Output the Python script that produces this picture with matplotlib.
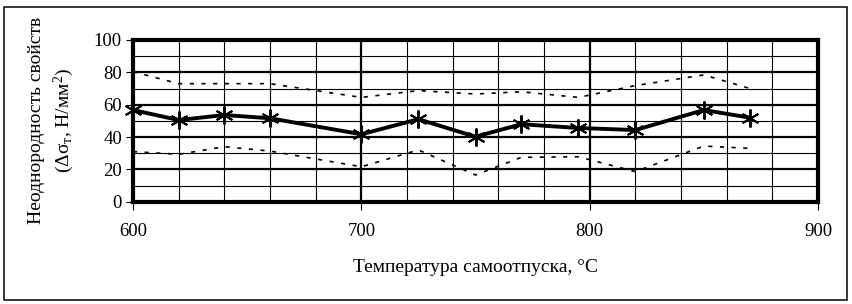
""" неоднородность свойств в зависимости от температуры самоотпуска """

from matplotlib import pyplot as plt
from matplotlib.patches import Rectangle
from matplotlib.ticker import MultipleLocator

temperature = [600, 620, 640, 660, 700, 725, 750, 770, 795, 820, 850, 870]
mean_spread = [56.7, 50.5, 53.6, 51.6, 41.7, 51.0, 40.2, 47.9, 45.6, 44.3, 56.7, 52.0]
upper_spread = [80.4, 73.0, 73.0, 73.0, 64.5, 68.7, 66.6, 68.0, 64.5, 71.8, 78.4, 70.1]
lower_spread = [31.0, 29.3, 34.0, 31.3, 21.6, 32.0, 16.5, 27.4, 27.8, 18.6, 34.4, 33.0]

plt.rcParams["font.family"] = ["Liberation Serif", "DejaVu Serif"]
plt.rcParams["mathtext.fontset"] = "custom"
plt.rcParams["mathtext.rm"] = "Liberation Serif"
plt.rcParams["mathtext.it"] = "Liberation Serif"

fig = plt.figure(figsize=(8.52, 3.04), dpi=100)
ax = fig.add_axes((133/852, 1 - 201.7/304, 685/852, 161.7/304))

# внешняя рамка рисунка
fig.patches.append(Rectangle((4/852, 4/304), 843/852, 293/304, transform=fig.transFigure,
                             fill=False, edgecolor="k", linewidth=1.1))

ax.plot(temperature, upper_spread, color="k", linewidth=1.2, linestyle=(0, (2.5, 4.5)))
ax.plot(temperature, lower_spread, color="k", linewidth=1.2, linestyle=(0, (2.5, 4.5)))
ax.plot(temperature, mean_spread, color="k", linewidth=2.8, marker=(6, 2, 0),
        markersize=13, markeredgewidth=1.4, clip_on=False, zorder=5)

ax.set_xlim(600, 900)
ax.set_ylim(0, 100)
ax.xaxis.set_major_locator(MultipleLocator(100))
ax.xaxis.set_minor_locator(MultipleLocator(20))
ax.yaxis.set_major_locator(MultipleLocator(20))
ax.yaxis.set_minor_locator(MultipleLocator(10))
ax.grid(which="major", color="k", linewidth=1.6)
ax.grid(which="minor", color="k", linewidth=0.8)
ax.set_axisbelow(True)
for spine in ax.spines.values():
	spine.set_linewidth(3.0)
ax.tick_params(which="major", direction="out", width=0.8, labelsize=13.5)
ax.tick_params(axis="x", which="major", length=6, pad=9)
ax.tick_params(axis="y", which="major", length=5, pad=3)
ax.tick_params(which="minor", length=0)

ax.set_xlabel("Температура самоотпуска, °C", fontsize=14, va="center")
ax.xaxis.set_label_coords(0.5, -0.404)
ax.set_ylabel("Неоднородность свойств\n(Δσ$_\\mathrm{т}$, Н/мм$^\\mathrm{2}$)", fontsize=14,
              linespacing=1.36, va="center")
ax.yaxis.set_label_coords(-0.118, 0.5)

fig.savefig("out.png", dpi=100)
